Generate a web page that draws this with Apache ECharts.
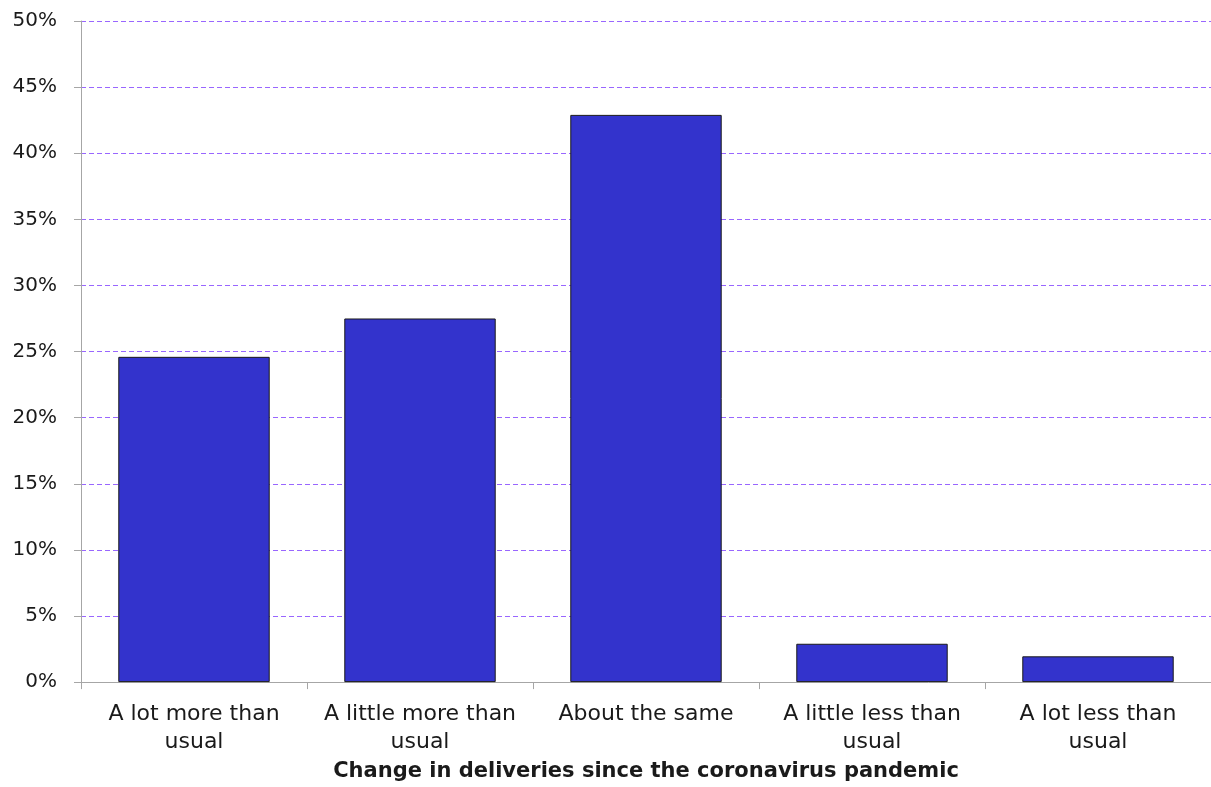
<!DOCTYPE html>
<html>
<head>
<meta charset="utf-8">
<script src="https://cdn.jsdelivr.net/npm/echarts@6/dist/echarts.min.js"></script>
<style>
html,body{margin:0;padding:0;background:#fff;overflow:hidden;}
#chart{width:1211px;height:787px;}
</style>
</head>
<body>
<div id="chart"></div>
<script>
const categories = ["A lot more than\nusual", "A little more than\nusual", "About the same", "A little less than\nusual", "A lot less than\nusual"];
const values = [24.6, 27.5, 42.9, 2.9, 1.95];
const xAxisTitle = "Change in deliveries since the coronavirus pandemic";

const FONT = 'DejaVu Sans';
const chart = echarts.init(document.getElementById('chart'), null, {renderer: 'canvas'});
chart.setOption({
  animation: false,
  backgroundColor: '#ffffff',
  textStyle: {fontFamily: FONT},
  grid: {left: 81, right: 0, top: 21, bottom: 100, containLabel: false},
  xAxis: {
    type: 'category',
    data: categories,
    name: xAxisTitle,
    nameLocation: 'middle',
    nameGap: 76,
    nameTextStyle: {fontFamily: FONT, fontWeight: 'bold', fontSize: 21, color: '#1a1a1a'},
    axisLine: {lineStyle: {color: '#a6a6a6', width: 1}},
    axisTick: {show: true, length: 7, lineStyle: {color: '#a6a6a6'}},
    axisLabel: {fontFamily: FONT, fontSize: 22, color: '#1a1a1a', margin: 18, lineHeight: 28, interval: 0}
  },
  yAxis: {
    type: 'value',
    min: 0,
    max: 50,
    interval: 5,
    axisLine: {show: true, lineStyle: {color: '#a6a6a6', width: 1}},
    axisTick: {show: true, length: 7, lineStyle: {color: '#a6a6a6'}},
    axisLabel: {fontFamily: FONT, fontSize: 20, color: '#1a1a1a', margin: 24, formatter: '{value}%'},
    splitLine: {show: true, lineStyle: {color: '#9966ff', type: [5, 3], width: 1}}
  },
  series: [{
    type: 'bar',
    data: values,
    barCategoryGap: '33%',
    itemStyle: {color: '#3333cc', borderColor: '#1a1a1a', borderWidth: 1}
  }]
});
</script>
</body>
</html>
